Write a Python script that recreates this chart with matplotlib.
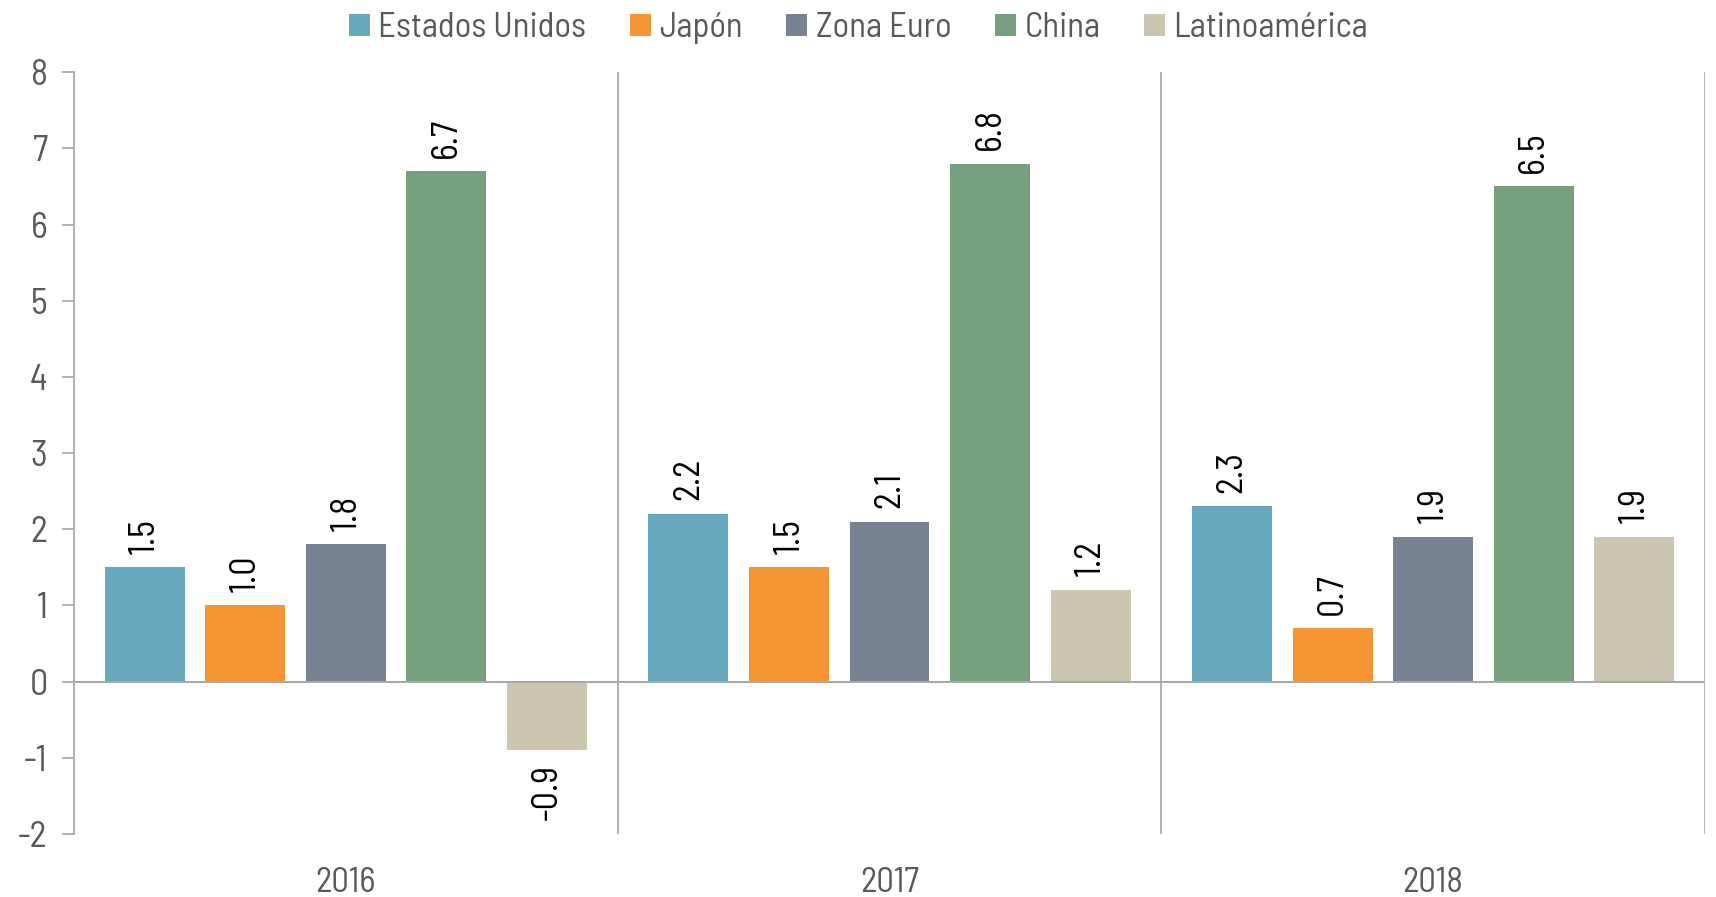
import numpy as np
import matplotlib
matplotlib.use('Agg')
import matplotlib.pyplot as plt
from matplotlib import font_manager

years = ['2016', '2017', '2018']
regions = ['Estados Unidos', 'Japón', 'Zona Euro', 'China', 'Latinoamérica']
growth = {
    'Estados Unidos': [1.5, 2.2, 2.3],
    'Japón': [1.0, 1.5, 0.7],
    'Zona Euro': [1.8, 2.1, 1.9],
    'China': [6.7, 6.8, 6.5],
    'Latinoamérica': [-0.9, 1.2, 1.9],
}
colors = ['#67A8BD', '#F69533', '#778392', '#759F7D', '#CCC5B0']

names = {f.name for f in font_manager.fontManager.ttflist}
fam = [f for f in ['Barlow Semi Condensed', 'Barlow Condensed', 'DejaVu Sans'] if f in names]
plt.rcParams['font.family'] = fam + ['DejaVu Sans']
plt.rcParams['axes.unicode_minus'] = False

grey = '#595959'
line = '#AAAAAA'

fig = plt.figure(figsize=(17.16, 8.97), dpi=100)
ax = fig.add_axes([0.0431, 0.0703, 0.9505, 0.8492])

x = np.arange(len(years))
step = 0.185
width = 0.147
for i, r in enumerate(regions):
    pos = x + (i - 2) * step
    vals = growth[r]
    ax.bar(pos, vals, width, color=colors[i], label=r, zorder=2)
    for px, v in zip(pos, vals):
        if v >= 0:
            ax.text(px, v + 0.18, '%.1f' % v, rotation=90, ha='center', va='bottom',
                    fontsize=26, color='black')
        else:
            ax.text(px, v - 0.18, '%.1f' % v, rotation=90, ha='center', va='top',
                    fontsize=26, color='black')

ax.set_xlim(-0.5, 2.5)
ax.set_ylim(-2, 8)
ax.axhline(0, color=line, lw=1.5, zorder=3)
for d in [0.5, 1.5, 2.5]:
    ax.plot([d, d], [-2, 8], color=line, lw=1.3, zorder=1)

for s in ['top', 'right', 'bottom']:
    ax.spines[s].set_visible(False)
ax.spines['left'].set_color(line)
ax.spines['left'].set_linewidth(1.3)
ax.set_yticks(range(-2, 9))
ax.tick_params(axis='y', colors=line, length=9, width=1.3, labelsize=26, labelcolor=grey, pad=10)
ax.set_xticks(x)
ax.set_xticklabels(years)
ax.tick_params(axis='x', length=0, labelsize=25, labelcolor=grey, pad=24)

ax.legend(loc='upper center', bbox_to_anchor=(0.481, 1.12), ncol=5, frameon=False,
          fontsize=25, labelcolor=grey, handlelength=0.6, handleheight=0.6,
          handletextpad=0.25, columnspacing=1.25)

fig.savefig('out.png', dpi=100, facecolor='white')
